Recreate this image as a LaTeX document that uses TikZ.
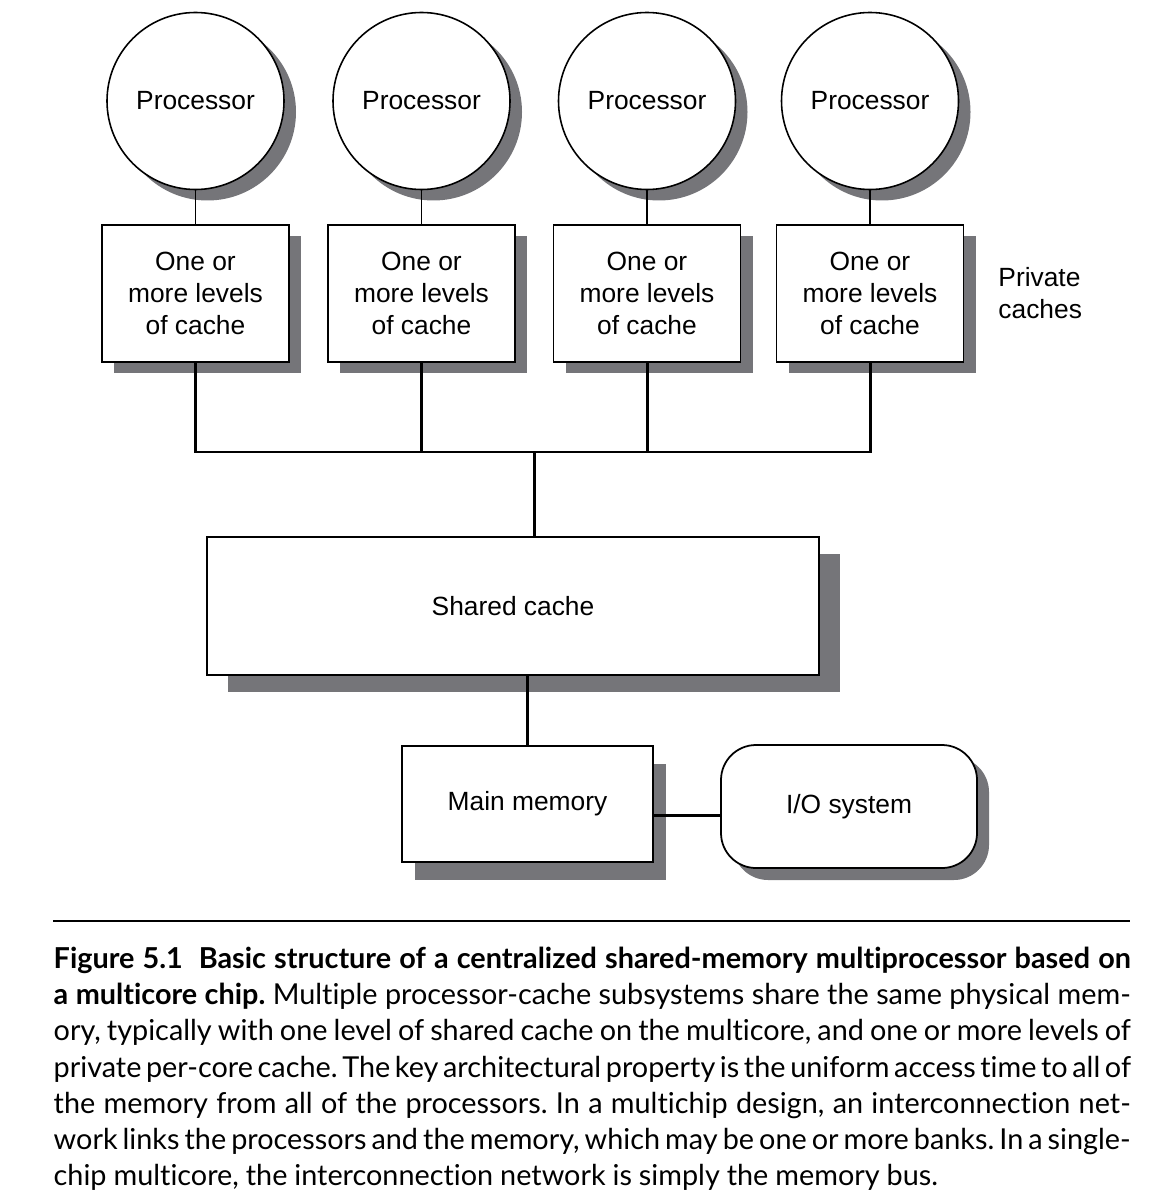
\documentclass[tikz,border=0pt]{standalone}
\usepackage{fontspec}
\setmainfont{Liberation Sans}
\newfontfamily\capfont[Ligatures=NoCommon]{Lato}
\usetikzlibrary{positioning, shadows}
\definecolor{shadowgray}{RGB}{117,117,121}

\begin{document}
\begin{tikzpicture}[
  every node/.style={font=\fontsize{7.5}{9.1}\selectfont},
  shadowed/.style 2 args={drop shadow={shadow xshift=#1,shadow yshift=#2,fill=shadowgray,opacity=1}},
  proc/.style={circle,draw,line width=0.45pt,fill=white,minimum size=1.77cm,inner sep=0pt,shadowed={0.12cm}{-0.11cm}},
  boxbase/.style={rectangle,draw,line width=0.5pt,fill=white,align=center},
  cache/.style={boxbase,minimum width=1.87cm,minimum height=1.37cm,shadowed={0.12cm}{-0.11cm}},
  link/.style={line width=0.35pt},
  bus/.style={line width=0.85pt}
]
  \useasboundingbox (0,0) rectangle (11.74,-12.04);

  % processors and private caches
  \foreach \i/\x in {1/1.955,2/4.215,3/6.47,4/8.70}{
    \node[proc] (p\i) at (\x,-1.01) {Processor};
    \node[cache] (c\i) at (\x,-2.935) {One or\\more levels\\of cache};
    \draw[link] (p\i) -- (c\i);
  }
  \node[align=left,anchor=west] (priv) at (9.86,-2.93) {Private\\caches};

  % bus to the shared cache
  \coordinate (hub) at (5.34,-4.52);
  \draw[bus] (c1.south) |- (hub) -| (c4.south);
  \draw[bus] (c2.south) -- (c2.south |- hub);
  \draw[bus] (c3.south) -- (c3.south |- hub);
  \node[boxbase,shadowed={0.21cm}{-0.17cm},minimum width=6.12cm,minimum height=1.38cm] (shared) at (5.13,-6.06) {Shared cache};
  \draw[bus] (hub) -- (hub |- shared.north);

  % memory and I/O
  \node[boxbase,shadowed={0.13cm}{-0.18cm},minimum width=2.51cm,minimum height=1.16cm] (mem) at (5.275,-8.04) {Main memory};
  \node[boxbase,rounded corners=0.35cm,shadowed={0.12cm}{-0.12cm},minimum width=2.56cm,minimum height=1.23cm] (io) at (8.49,-8.065) {I/O system};
  \draw[bus] (shared.south -| mem.north) -- (mem.north);
  \draw[bus] ([yshift=-0.11cm]mem.east) -- ([yshift=-0.11cm]mem.east -| io.west);

  % caption
  \draw[line width=0.6pt] (0.53,-9.21) -- (11.30,-9.21);
  \node[anchor=north west,inner sep=0pt,text width=10.77cm,align=justify,font=\capfont\fontsize{8.2}{10.33}\selectfont] (caption) at (0.53,-9.46)
  {\tolerance=10000\hyphenpenalty=10000\frenchspacing
   \spaceskip=0.24em plus 0.5em minus 0.1em
   \textbf{Figure 5.1\hspace{0.55em}Basic structure of a centralized shared-memory multiprocessor based on\linebreak a multicore chip.} Multiple processor-cache subsystems share the same physical mem-\linebreak ory, typically with one level of shared cache on the multicore, and one or more levels of\linebreak private per-core cache. The key architectural property is the uniform access time to all of\linebreak the memory from all of the processors. In a multichip design, an interconnection net-\linebreak work links the processors and the memory, which may be one or more banks. In a single-\linebreak chip multicore, the interconnection network is simply the memory bus.};
\end{tikzpicture}
\end{document}
